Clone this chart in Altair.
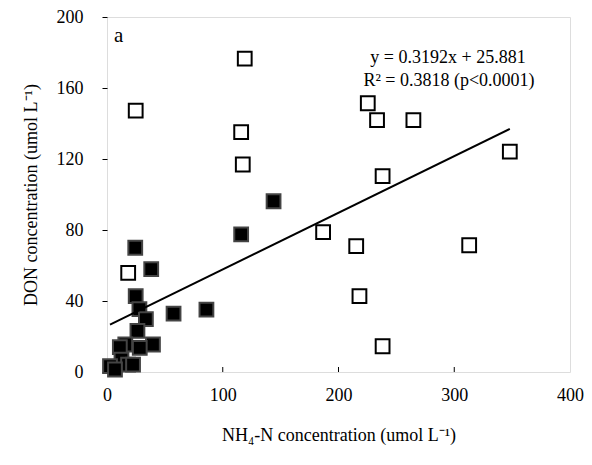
import altair as alt
import pandas as pd

# Open squares
open_x = [24.8, 119.0, 115.9, 117.3, 225.3, 233.3, 264.7, 238.1, 348.0, 312.9, 186.7, 215.3, 218.1, 238.1, 18.3]
open_y = [147.3, 176.6, 135.1, 116.9, 151.4, 141.9, 141.9, 110.3, 124.1, 71.4, 78.8, 70.9, 42.7, 14.5, 55.9]
# Filled squares
fill_x = [143.9, 115.9, 24.4, 38.2, 24.8, 28.0, 33.6, 57.5, 85.9, 26.3, 39.7, 28.3, 15.8, 11.1, 12.5, 18.2, 22.5, 2.6, 6.9]
fill_y = [96.2, 77.5, 70.0, 57.9, 42.7, 35.4, 29.8, 32.9, 35.2, 23.2, 15.5, 13.6, 15.5, 14.0, 7.0, 4.2, 4.2, 3.3, 1.4]

slope = 0.3192
intercept = 25.881
x_ticks = [0, 100, 200, 300, 400]
y_ticks = [0, 40, 80, 120, 160, 200]
eq_lines = ["y = 0.3192x + 25.881", "R\u00b2 = 0.3818 (p<0.0001)"]

FONT = "Liberation Serif"
W, H = 463, 355

df_open = pd.DataFrame({"x": open_x, "y": open_y})
df_fill = pd.DataFrame({"x": fill_x, "y": fill_y})
all_x = open_x + fill_x
x0, x1 = min(all_x), max(all_x)
df_line = pd.DataFrame({"x": [x0, x1], "y": [slope * x0 + intercept, slope * x1 + intercept]})
df_ticks = pd.DataFrame({"x": x_ticks[1:-1]})

xs = alt.Scale(domain=[0, 400], nice=False, zero=False)
ys = alt.Scale(domain=[0, 200], nice=False, zero=False)

xaxis = alt.Axis(values=x_ticks, title="NH\u2084-N concentration (umol L\u207b\u00b9)", ticks=False,
                 labelPadding=14, titlePadding=22, grid=False, domain=False, labelFlush=False,
                 labelFont=FONT, titleFont=FONT, labelFontSize=18, titleFontSize=18,
                 titleFontWeight="normal", labelColor="black", titleColor="black")
yaxis = alt.Axis(values=y_ticks, title="DON concentration (umol L\u207b\u00b9)", tickSize=5,
                 tickColor="black", labelPadding=19, titlePadding=16, grid=False, domain=False,
                 labelFlush=False,
                 labelFont=FONT, titleFont=FONT, labelFontSize=18, titleFontSize=18,
                 titleFontWeight="normal", labelColor="black", titleColor="black")

open_pts = alt.Chart(df_open).mark_point(shape="square", size=190, filled=False, fill="white",
                                         stroke="black", strokeWidth=2, opacity=1).encode(
    x=alt.X("x:Q", scale=xs, axis=xaxis),
    y=alt.Y("y:Q", scale=ys, axis=yaxis),
)
fill_pts = alt.Chart(df_fill).mark_point(shape="square", size=190, filled=True, fill="black",
                                         stroke="#444444", strokeWidth=2, opacity=1).encode(
    x=alt.X("x:Q", scale=xs),
    y=alt.Y("y:Q", scale=ys),
)
line = alt.Chart(df_line).mark_line(color="black", strokeWidth=2).encode(
    x=alt.X("x:Q", scale=xs),
    y=alt.Y("y:Q", scale=ys),
)
xticks = alt.Chart(df_ticks).mark_rule(color="black", strokeWidth=1).encode(
    x=alt.X("x:Q", scale=xs),
    y=alt.value(H),
    y2=alt.value(H - 5),
)
label_a = alt.Chart(pd.DataFrame({"t": ["a"]})).mark_text(
    font=FONT, fontSize=21, align="left", baseline="middle", color="black").encode(
    text="t:N", x=alt.value(7), y=alt.value(19))
eq1 = alt.Chart(pd.DataFrame({"t": [eq_lines[0]]})).mark_text(
    font=FONT, fontSize=18, align="center", baseline="middle", color="black").encode(
    text="t:N", x=alt.value(341), y=alt.value(41))
eq2 = alt.Chart(pd.DataFrame({"t": [eq_lines[1]]})).mark_text(
    font=FONT, fontSize=18, align="center", baseline="middle", color="black").encode(
    text="t:N", x=alt.value(342), y=alt.value(64))

chart = alt.layer(open_pts, fill_pts, line, xticks, label_a, eq1, eq2).properties(
    width=W, height=H,
    autosize=alt.AutoSizeParams(type="none"),
    padding={"left": 99, "top": 9, "right": 14, "bottom": 80},
).configure_view(stroke="black", strokeWidth=1.5).configure(background="white")

chart.save("out.html", embed_options={"renderer": "svg", "actions": False})
